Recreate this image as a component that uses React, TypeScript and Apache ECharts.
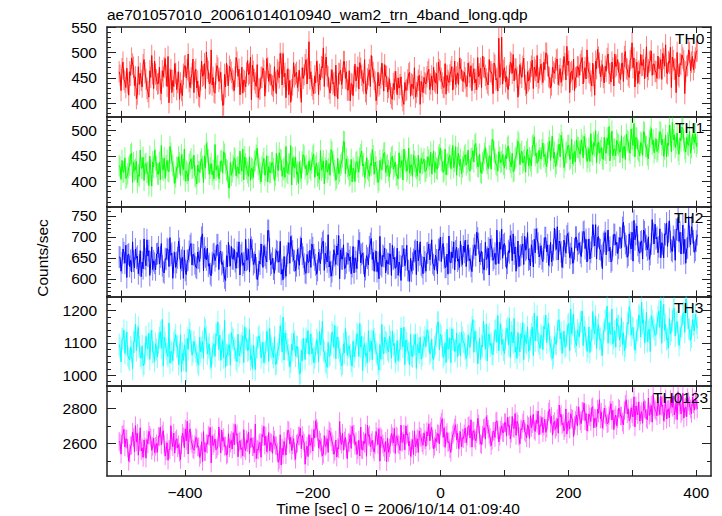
import React, { useEffect, useRef } from "react";
import * as echarts from "echarts";

const chartTitle = "ae701057010_20061014010940_wam2_trn_4band_long.qdp";
const xAxisTitle = "Time [sec] 0 = 2006/10/14 01:09:40";
const yAxisTitle = "Counts/sec";
const xTickValues = [-500, -400, -300, -200, -100, 0, 100, 200, 300, 400];
const xTickLabels = [-400, -200, 0, 200, 400];
// Bins are 1.5 s wide; "even" bins start at -503 s, "odd" bins at -501.5 s, both every 3 s.
const tStartEven = -503;
const tStartOdd = -501.5;
const tStep = 3;

const th0Even = [
  462, 425, 481, 442, 469, 416, 455, 477, 435, 409, 472, 459, 432, 486, 447, 423, 464, 494, 429, 457,
  438, 471, 419, 452, 488, 433, 401, 466, 445, 478, 427, 462, 440, 415, 473, 450, 497, 431, 458, 421,
  467, 444, 412, 483, 456, 429, 469, 438, 505, 451, 420, 474, 443, 461, 396, 457, 479, 435, 466, 448,
  425, 490, 453, 417, 471, 446, 432, 484, 459, 407, 463, 440, 476, 428, 451, 469, 414, 488, 443, 455,
  434, 472, 419, 461, 498, 436, 452, 411, 468, 445, 427, 480, 457, 431, 465, 402, 449, 476, 438, 521,
  462, 428, 454, 483, 417, 446, 470, 433, 491, 452, 420, 466, 441, 475, 409, 458, 437, 482, 449, 426,
  464, 439, 415, 477, 452, 428, 469, 444, 486, 418, 456, 433, 472, 447, 405, 461, 438, 479, 424, 453,
  422, 448, 411, 439, 463, 417, 430, 452, 405, 441, 427, 458, 414, 436, 470, 421, 445, 398, 433, 451,
  438, 462, 427, 454, 471, 440, 419, 466, 449, 432, 478, 455, 441, 463, 426, 483, 452, 437, 469, 444,
  461, 434, 479, 452, 425, 468, 447, 490, 458, 431, 472, 455, 440, 486, 462, 419, 475, 449, 528, 457,
  438, 470, 453, 427, 481, 459, 444, 467, 412, 476, 451, 489, 435, 462, 448, 473, 429, 465, 494, 450,
  477, 441, 466, 498, 452, 430, 471, 459, 485, 437, 468, 454, 492, 446, 475, 421, 463, 487, 450, 472,
  455, 483, 438, 470, 505, 461, 444, 479, 416, 468, 491, 452, 476, 440, 463, 497, 458, 481, 434, 472,
  486, 459, 478, 443, 502, 467, 451, 489, 470, 432, 481, 463, 496, 475, 448, 511, 466, 484, 455, 477,
  462, 493, 470, 447, 488, 515, 458, 479, 431, 484, 467, 500, 452, 476, 489, 419, 473, 505, 464, 492,
  481, 502,
];
const th0Odd = [
  455, 468, 447, 431, 440, 462, 489, 471, 452, 418, 437, 445, 476, 460, 429, 412, 451, 458, 483, 446,
  439, 427, 464, 470, 455, 492, 448, 421, 433, 459, 441, 408, 425, 457, 474, 466, 443, 450, 487, 462,
  430, 415, 446, 453, 478, 501, 463, 440, 436, 422, 458, 469, 449, 426, 397, 432, 455, 473, 461, 444,
  452, 481, 467, 438, 420, 443, 460, 456, 491, 475, 447, 433, 411, 428, 451, 464, 442, 470, 458, 437,
  424, 441, 466, 450, 479, 498, 459, 445, 417, 402, 436, 452, 461, 444, 431, 470, 456, 486, 468, 448,
  435, 419, 440, 463, 457, 472, 509, 477, 454, 429, 446, 438, 414, 433, 459, 465, 449, 482, 462, 426,
  405, 437, 452, 444, 471, 480, 455, 439, 423, 448, 466, 494, 461, 442, 418, 434, 450, 457, 476, 453,
  431, 419, 408, 427, 442, 450, 437, 415, 398, 425, 446, 461, 438, 429, 412, 433, 455, 443, 421, 440,
  452, 467, 438, 426, 444, 459, 481, 463, 440, 431, 418, 445, 456, 472, 449, 437, 460, 489, 466, 443,
  450, 433, 461, 474, 458, 440, 427, 452, 469, 493, 470, 448, 436, 462, 457, 479, 446, 424, 451, 530,
  465, 442, 430, 455, 478, 496, 468, 451, 437, 459, 473, 447, 419, 444, 462, 485, 471, 453, 440, 466,
  458, 481, 499, 474, 450, 436, 462, 469, 487, 455, 441, 466, 478, 512, 483, 460, 447, 425, 452, 471,
  476, 490, 462, 448, 470, 458, 434, 455, 483, 506, 479, 464, 451, 473, 488, 459, 442, 469, 497, 475,
  461, 447, 479, 492, 468, 455, 484, 519, 489, 466, 439, 458, 474, 486, 470, 452, 481, 503, 477, 463,
  449, 468, 486, 498, 473, 460, 482, 510, 491, 467, 421, 456, 478, 495, 484, 462, 475, 500, 481, 466,
  489, 503,
];

const th1Even = [
  431, 404, 418, 446, 409, 427, 452, 398, 421, 439, 413, 461, 426, 402, 435, 418, 449, 391, 428, 442,
  415, 437, 470, 422, 406, 441, 419, 455, 431, 396, 427, 448, 412, 433, 463, 420, 401, 438, 425, 451,
  409, 432, 418, 444, 397, 426, 457, 414, 435, 421, 472, 429, 405, 440, 416, 453, 423, 389, 437, 419,
  446, 411, 428, 459, 420, 403, 434, 417, 448, 426, 408, 441, 465, 424, 399, 436, 412, 450, 429, 418,
  437, 402, 455, 421, 443, 410, 427, 468, 416, 434, 393, 429, 447, 419, 438, 406, 452, 425, 413, 440,
  422, 449, 408, 436, 417, 460, 428, 395, 441, 424, 412, 457, 431, 403, 445, 420, 436, 478, 415, 429,
  411, 443, 426, 400, 439, 418, 452, 430, 407, 446, 421, 435, 462, 414, 428, 398, 441, 423, 455, 417,
  432, 409, 447, 424, 438, 413, 456, 429, 403, 442, 420, 465, 431, 410, 439, 425, 451, 416, 434, 444,
  421, 448, 430, 415, 459, 437, 424, 452, 441, 418, 463, 433, 447, 425, 470, 439, 412, 455, 443, 428,
  449, 432, 461, 420, 445, 438, 474, 429, 453, 416, 441, 466, 435, 450, 424, 481, 443, 431, 458, 437,
  452, 426, 444, 469, 437, 455, 421, 448, 478, 433, 459, 441, 418, 463, 446, 430, 472, 450, 436, 461,
  444, 475, 453, 429, 466, 441, 488, 457, 435, 462, 448, 476, 427, 455, 470, 443, 482, 451, 438, 467,
  458, 481, 446, 472, 439, 464, 493, 452, 469, 436, 477, 460, 445, 486, 455, 471, 440, 498, 463, 450,
  474, 457, 489, 466, 443, 480, 461, 502, 470, 448, 484, 459, 476, 451, 495, 468, 444, 487, 472, 456,
  483, 462, 497, 471, 449, 490, 475, 510, 458, 481, 466, 494, 453, 479, 503, 464, 486, 470, 455, 492,
  476, 468,
];
const th1Odd = [
  428, 441, 419, 406, 415, 432, 455, 437, 424, 398, 410, 426, 447, 433, 417, 392, 421, 438, 461, 429,
  414, 403, 425, 446, 431, 420, 468, 440, 418, 409, 427, 436, 452, 423, 401, 416, 433, 444, 428, 411,
  395, 419, 437, 429, 450, 474, 442, 426, 413, 405, 422, 431, 418, 440, 458, 435, 420, 387, 412, 430,
  443, 427, 415, 434, 463, 448, 425, 410, 402, 424, 439, 451, 433, 416, 428, 445, 421, 399, 417, 436,
  425, 412, 430, 456, 441, 423, 408, 419, 434, 470, 446, 427, 414, 396, 420, 438, 449, 431, 417, 426,
  436, 453, 429, 411, 404, 422, 440, 426, 418, 435, 462, 439, 421, 407, 415, 432, 448, 477, 444, 424,
  413, 399, 420, 437, 428, 445, 459, 434, 417, 425, 410, 431, 450, 438, 419, 403, 426, 442, 456, 430,
  421, 436, 449, 430, 412, 405, 427, 441, 463, 438, 424, 416, 433, 452, 429, 410, 422, 445, 437, 419,
  428, 442, 457, 434, 418, 426, 447, 465, 439, 421, 413, 435, 451, 444, 427, 468, 446, 430, 415, 438,
  452, 437, 423, 444, 460, 471, 446, 429, 418, 436, 455, 442, 425, 449, 482, 458, 434, 420, 447, 439,
  433, 451, 466, 443, 428, 419, 445, 462, 474, 453, 436, 449, 458, 431, 440, 469, 487, 455, 438, 446,
  462, 448, 437, 456, 479, 468, 445, 429, 451, 473, 490, 463, 441, 457, 470, 446, 434, 458, 481, 466,
  453, 470, 488, 464, 447, 439, 458, 476, 499, 472, 455, 466, 443, 461, 485, 507, 474, 450, 463, 480,
  471, 458, 446, 469, 492, 477, 455, 483, 513, 486, 462, 450, 474, 497, 468, 452, 479, 503, 481, 465,
  458, 476, 495, 482, 463, 448, 470, 489, 515, 491, 474, 461, 485, 506, 479, 457, 472, 498, 466, 484,
  493, 475,
];

const th2Even = [
  652, 618, 671, 637, 603, 659, 644, 688, 626, 649, 612, 667, 640, 695, 631, 654, 608, 676, 643, 621,
  660, 635, 684, 617, 648, 672, 629, 656, 601, 663, 639, 690, 624, 651, 668, 610, 645, 679, 633, 657,
  628, 664, 641, 699, 619, 652, 673, 636, 607, 658, 643, 681, 622, 666, 639, 602, 655, 687, 630, 648,
  670, 625, 651, 609, 662, 638, 694, 647, 616, 675, 634, 659, 598, 642, 683, 627, 656, 640, 715, 633,
  649, 613, 667, 641, 689, 622, 653, 606, 661, 637, 678, 644, 619, 670, 632, 697, 651, 615, 658, 640,
  627, 674, 645, 611, 663, 636, 686, 620, 652, 705, 641, 617, 669, 634, 657, 600, 648, 681, 626, 660,
  643, 612, 677, 650, 624, 692, 638, 661, 605, 655, 633, 684, 646, 618, 666, 639, 701, 629, 653, 614,
  636, 659, 608, 647, 625, 673, 640, 596, 654, 631, 680, 619, 649, 637, 665, 610, 643, 688, 628, 652,
  618, 662, 645, 693, 633, 656, 612, 668, 641, 684, 627, 659, 702, 638, 650, 621, 675, 647, 690, 634,
  663, 629, 681, 648, 617, 672, 655, 697, 640, 666, 622, 687, 651, 609, 678, 644, 661, 716, 636, 670,
  649, 684, 625, 667, 703, 643, 659, 618, 690, 655, 676, 634, 668, 710, 647, 681, 628, 662, 695, 652,
  679, 641, 698, 664, 632, 687, 656, 721, 670, 645, 683, 627, 692, 661, 708, 650, 674, 638, 699, 667,
  686, 653, 711, 672, 640, 695, 663, 729, 678, 647, 701, 669, 624, 689, 657, 716, 675, 644, 706, 681,
  660, 698, 674, 735, 684, 651, 707, 671, 642, 693, 726, 665, 688, 647, 712, 679, 700, 658, 741, 683,
  695, 662, 719, 686, 650, 705, 677, 738, 668, 701, 644, 716, 689, 659, 728, 694, 672, 748, 681, 710,
  663, 690,
];
const th2Odd = [
  651, 638, 662, 680, 657, 629, 616, 642, 671, 654, 633, 605, 624, 648, 693, 667, 640, 622, 637, 659,
  676, 652, 631, 614, 646, 669, 698, 661, 639, 627, 650, 672, 644, 601, 620, 643, 665, 684, 658, 636,
  625, 649, 674, 707, 673, 645, 630, 612, 638, 660, 653, 681, 662, 634, 618, 596, 628, 655, 677, 647,
  641, 663, 688, 656, 632, 619, 644, 670, 695, 668, 639, 626, 609, 635, 657, 679, 650, 715, 671, 637,
  623, 646, 664, 640, 611, 598, 627, 654, 686, 701, 666, 642, 631, 648, 675, 659, 635, 613, 639, 668,
  683, 657, 633, 620, 645, 672, 690, 661, 640, 628, 606, 632, 655, 678, 703, 669, 647, 624, 638, 660,
  652, 629, 614, 641, 667, 685, 658, 637, 622, 649, 676, 696, 663, 643, 617, 600, 634, 656, 673, 645,
  636, 659, 680, 651, 627, 608, 631, 654, 672, 645, 620, 594, 618, 646, 668, 690, 657, 633, 612, 640,
  661, 683, 658, 637, 621, 645, 670, 699, 674, 650, 628, 611, 639, 664, 688, 666, 642, 627, 655, 678,
  692, 667, 643, 630, 655, 681, 711, 684, 659, 638, 622, 646, 673, 695, 670, 649, 634, 662, 687, 718,
  681, 654, 637, 662, 689, 707, 676, 650, 629, 657, 683, 701, 672, 645, 631, 666, 694, 719, 685, 659,
  648, 672, 698, 681, 655, 640, 669, 693, 724, 690, 664, 651, 678, 702, 686, 660, 637, 671, 699, 683,
  662, 688, 713, 694, 668, 647, 675, 703, 729, 698, 671, 655, 684, 710, 690, 666, 640, 679, 705, 687,
  673, 697, 722, 701, 678, 656, 686, 711, 739, 706, 680, 661, 690, 716, 694, 669, 646, 683, 708, 730,
  699, 676, 650, 682, 707, 733, 712, 688, 665, 692, 718, 746, 711, 685, 660, 637, 674, 701, 724, 690,
  668, 705,
];

const th3Even = [
  1095, 1041, 1112, 1068, 1134, 1052, 1087, 1019, 1103, 1076, 1148, 1060, 1091, 1035, 1120, 1082, 1049, 1139, 1071, 1098,
  1057, 1116, 1083, 1028, 1101, 1065, 1162, 1074, 1045, 1109, 1088, 1033, 1125, 1069, 1094, 1011, 1080, 1131, 1062, 1104,
  1073, 1038, 1118, 1085, 1052, 1140, 1066, 1097, 1024, 1089, 1058, 1123, 1079, 1046, 1107, 1170, 1063, 1092, 1031, 1115,
  1084, 1050, 1127, 1070, 1099, 1039, 1111, 1075, 1143, 1061, 1093, 1017, 1086, 1122, 1054, 1102, 1068, 1136, 1043, 1090,
  1067, 1119, 1036, 1081, 1153, 1072, 1047, 1106, 1078, 1025, 1096, 1130, 1059, 1088, 1004, 1077, 1114, 1049, 1100, 1065,
  1128, 1083, 1055, 1110, 1042, 1094, 1167, 1071, 1037, 1102, 1064, 1133, 1086, 1051, 1118, 1073, 1029, 1097, 1145, 1062,
  1091, 1044, 1105, 1076, 1129, 1058, 1087, 1014, 1099, 1068, 1138, 1081, 1048, 1113, 1072, 1034, 1095, 1157, 1066, 1103,
  1079, 1121, 1053, 1092, 1040, 1108, 1074, 1146, 1087, 1032, 1100, 1069, 1126, 1057, 1095, 1021, 1083, 1118, 1061, 1104,
  1089, 1135, 1066, 1112, 1048, 1097, 1163, 1078, 1120, 1055, 1101, 1142, 1084, 1039, 1109, 1073, 1131, 1092, 1060, 1117,
  1098, 1052, 1124, 1086, 1149, 1071, 1107, 1036, 1115, 1093, 1168, 1080, 1044, 1128, 1099, 1063, 1137, 1102, 1075, 1158,
  1110, 1067, 1139, 1094, 1055, 1121, 1176, 1088, 1132, 1072, 1114, 1048, 1103, 1150, 1085, 1127, 1061, 1106, 1183, 1097,
  1125, 1079, 1143, 1101, 1160, 1087, 1052, 1119, 1095, 1171, 1112, 1068, 1136, 1091, 1154, 1076, 1128, 1189, 1104, 1140,
  1118, 1166, 1092, 1135, 1074, 1149, 1107, 1197, 1128, 1083, 1157, 1113, 1061, 1141, 1174, 1099, 1132, 1205, 1115, 1087,
  1152, 1109, 1178, 1131, 1090, 1163, 1212, 1124, 1146, 1077, 1139, 1187, 1118, 1160, 1101, 1195, 1135, 1073, 1169, 1142,
  1126, 1181, 1148, 1099, 1220, 1157, 1114, 1175, 1138, 1203, 1121, 1166, 1092, 1150, 1191, 1133, 1227, 1144, 1108, 1172,
  1137, 1161,
];
const th3Odd = [
  1084, 1112, 1139, 1096, 1061, 1047, 1075, 1103, 1158, 1121, 1088, 1052, 1029, 1066, 1093, 1130, 1107, 1071, 1043, 1080,
  1099, 1135, 1173, 1118, 1082, 1058, 1037, 1069, 1101, 1126, 1090, 1064, 1011, 1046, 1078, 1115, 1142, 1106, 1073, 1087,
  1060, 1031, 1072, 1104, 1147, 1119, 1085, 1050, 1068, 1097, 1128, 1165, 1124, 1081, 1054, 1025, 1063, 1095, 1132, 1110,
  1076, 1042, 1059, 1091, 1122, 1150, 1113, 1079, 1048, 1020, 1057, 1086, 1116, 1098, 1070, 1039, 1074, 1108, 1145, 1083,
  1055, 1033, 1067, 1094, 1127, 1180, 1131, 1096, 1062, 1041, 1077, 1105, 1089, 1053, 1006, 1045, 1081, 1114, 1139, 1092,
  1066, 1038, 1071, 1100, 1136, 1111, 1078, 1044, 1024, 1058, 1093, 1125, 1154, 1117, 1084, 1051, 1035, 1069, 1102, 1087,
  1063, 1028, 1056, 1090, 1123, 1160, 1120, 1086, 1059, 1040, 1074, 1106, 1138, 1097, 1065, 1016, 1049, 1083, 1118, 1100,
  1072, 1104, 1137, 1098, 1066, 1045, 1080, 1113, 1149, 1109, 1077, 1032, 1060, 1092, 1126, 1095, 1068, 1050, 1087, 1119,
  1141, 1106, 1074, 1053, 1088, 1121, 1165, 1127, 1092, 1063, 1039, 1080, 1115, 1144, 1110, 1076, 1058, 1099, 1133, 1103,
  1081, 1060, 1097, 1130, 1172, 1136, 1101, 1070, 1049, 1088, 1124, 1158, 1119, 1090, 1066, 1107, 1141, 1185, 1129, 1095,
  1078, 1112, 1146, 1177, 1134, 1100, 1071, 1052, 1093, 1128, 1163, 1125, 1098, 1074, 1109, 1149, 1192, 1140, 1105, 1083,
  1118, 1152, 1186, 1143, 1107, 1079, 1061, 1099, 1135, 1171, 1132, 1102, 1086, 1123, 1160, 1205, 1155, 1117, 1091, 1129,
  1164, 1199, 1151, 1114, 1088, 1070, 1108, 1145, 1182, 1140, 1111, 1094, 1130, 1168, 1214, 1163, 1126, 1097, 1137, 1176,
  1153, 1121, 1095, 1076, 1117, 1158, 1196, 1148, 1116, 1100, 1139, 1181, 1226, 1172, 1133, 1104, 1143, 1184, 1150, 1123,
  1160, 1198, 1231, 1179, 1139, 1110, 1085, 1127, 1168, 1207, 1162, 1130, 1115, 1152, 1193, 1236, 1176, 1141, 1119, 1157,
  1188, 1146,
];

const th0123Even = [
  2612, 2538, 2651, 2579, 2624, 2497, 2586, 2663, 2551, 2608, 2532, 2689, 2574, 2619, 2515, 2597, 2645, 2560, 2630, 2583,
  2549, 2637, 2591, 2672, 2528, 2603, 2566, 2701, 2581, 2544, 2626, 2592, 2507, 2658, 2575, 2614, 2539, 2683, 2597, 2561,
  2634, 2578, 2519, 2609, 2667, 2553, 2596, 2640, 2488, 2587, 2625, 2570, 2694, 2546, 2612, 2583, 2532, 2655, 2601, 2568,
  2591, 2646, 2523, 2615, 2574, 2678, 2557, 2603, 2541, 2629, 2582, 2710, 2566, 2598, 2520, 2637, 2589, 2551, 2662, 2605,
  2543, 2620, 2586, 2491, 2649, 2572, 2611, 2534, 2676, 2595, 2558, 2627, 2509, 2602, 2642, 2569, 2615, 2480, 2584, 2650,
  2598, 2556, 2631, 2687, 2573, 2607, 2529, 2644, 2590, 2548, 2663, 2610, 2537, 2619, 2576, 2725, 2594, 2561, 2633, 2512,
  2604, 2571, 2652, 2589, 2536, 2618, 2693, 2562, 2599, 2526, 2640, 2581, 2617, 2550, 2668, 2593, 2498, 2626, 2577, 2611,
  2629, 2574, 2656, 2601, 2542, 2637, 2590, 2704, 2612, 2563, 2648, 2585, 2526, 2621, 2671, 2597, 2548, 2639, 2604, 2660,
  2583, 2642, 2615, 2691, 2568, 2627, 2655, 2596, 2720, 2634, 2577, 2662, 2609, 2548, 2649, 2688, 2620, 2571, 2666, 2631,
  2654, 2603, 2697, 2630, 2578, 2671, 2615, 2743, 2646, 2592, 2685, 2624, 2709, 2651, 2587, 2669, 2633, 2728, 2608, 2676,
  2662, 2719, 2641, 2696, 2624, 2754, 2683, 2645, 2711, 2597, 2677, 2733, 2659, 2706, 2628, 2690, 2765, 2668, 2713, 2649,
  2702, 2661, 2738, 2686, 2779, 2714, 2647, 2725, 2693, 2658, 2751, 2706, 2672, 2797, 2720, 2683, 2744, 2639, 2731, 2699,
  2756, 2712, 2783, 2730, 2671, 2768, 2725, 2810, 2744, 2695, 2772, 2739, 2687, 2801, 2749, 2716, 2788, 2733, 2679, 2762,
  2741, 2795, 2757, 2706, 2823, 2768, 2729, 2804, 2751, 2694, 2786, 2837, 2762, 2715, 2798, 2743, 2859, 2776, 2721, 2809,
  2783, 2834, 2764, 2811, 2729, 2856, 2792, 2747, 2825, 2871, 2788, 2736, 2818, 2769, 2887, 2803, 2752, 2839, 2796, 2865,
  2790, 2842,
];
const th0123Odd = [
  2603, 2648, 2680, 2625, 2571, 2542, 2589, 2634, 2701, 2657, 2608, 2556, 2519, 2577, 2622, 2669, 2631, 2583, 2547, 2598,
  2640, 2692, 2651, 2596, 2558, 2503, 2564, 2611, 2659, 2616, 2575, 2548, 2590, 2638, 2683, 2727, 2662, 2615, 2569, 2593,
  2626, 2581, 2537, 2496, 2552, 2599, 2647, 2690, 2644, 2601, 2563, 2585, 2629, 2676, 2633, 2586, 2540, 2574, 2617, 2661,
  2709, 2655, 2607, 2566, 2528, 2573, 2620, 2665, 2628, 2580, 2545, 2513, 2561, 2606, 2651, 2698, 2641, 2594, 2557, 2600,
  2643, 2588, 2549, 2507, 2476, 2534, 2579, 2624, 2672, 2635, 2591, 2553, 2596, 2642, 2687, 2645, 2602, 2560, 2524, 2587,
  2630, 2678, 2729, 2668, 2619, 2576, 2538, 2582, 2627, 2673, 2636, 2592, 2555, 2521, 2568, 2613, 2658, 2614, 2570, 2604,
  2650, 2697, 2652, 2609, 2562, 2527, 2565, 2612, 2656, 2705, 2649, 2603, 2567, 2592, 2637, 2684, 2639, 2597, 2551, 2495,
  2548, 2593, 2639, 2686, 2643, 2598, 2559, 2605, 2652, 2700, 2655, 2611, 2573, 2536, 2580, 2626, 2671, 2632, 2589, 2621,
  2667, 2712, 2668, 2624, 2583, 2610, 2654, 2699, 2741, 2690, 2646, 2603, 2569, 2615, 2661, 2706, 2659, 2618, 2581, 2627,
  2688, 2641, 2702, 2735, 2670, 2629, 2655, 2711, 2598, 2647, 2690, 2752, 2681, 2633, 2616, 2669, 2724, 2677, 2642, 2700,
  2661, 2718, 2749, 2702, 2657, 2689, 2771, 2726, 2640, 2683, 2715, 2668, 2631, 2697, 2758, 2712, 2676, 2734, 2785, 2706,
  2748, 2699, 2663, 2731, 2796, 2754, 2708, 2680, 2742, 2819, 2766, 2715, 2689, 2653, 2727, 2770, 2738, 2702, 2761, 2809,
  2729, 2784, 2830, 2771, 2716, 2752, 2803, 2688, 2741, 2796, 2850, 2778, 2733, 2765, 2712, 2759, 2827, 2790, 2745, 2701,
  2802, 2756, 2721, 2787, 2849, 2798, 2740, 2769, 2866, 2814, 2763, 2727, 2781, 2838, 2790, 2735, 2760, 2817, 2879, 2793,
  2758, 2811, 2869, 2820, 2776, 2739, 2797, 2851, 2806, 2762, 2830, 2895, 2835, 2783, 2744, 2808, 2862, 2815, 2771, 2826,
  2849, 2797,
];

const bandEven = [th0Even, th1Even, th2Even, th3Even, th0123Even];
const bandOdd = [th0Odd, th1Odd, th2Odd, th3Odd, th0123Odd];
const bandNames = ["TH0", "TH1", "TH2", "TH3", "TH0123"];
const bandErrors = [21, 21, 26, 34, 53];
const yMajorTicks = [
  [400, 450, 500, 550],
  [400, 450, 500],
  [600, 650, 700, 750],
  [1000, 1100, 1200],
  [2600, 2800],
];
const yMinorSteps = [10, 10, 10, 20, 100];
const yRanges = [
  [373.5, 550],
  [351, 526],
  [558, 772],
  [966, 1244],
  [2413, 2927],
];

const COLORS = ["#ff0000", "#00ff00", "#0000ff", "#00ffff", "#ff00ff"];
const FONT = "'Liberation Sans', Arial, Helvetica, sans-serif";
const FONT_SIZE = 15.5;
const PLOT_LEFT = 107;
const PLOT_RIGHT = 711;
const PLOT_TOP = 27;
const PLOT_BOTTOM = 476;
const X_MIN = -522;
const X_MAX = 423;
const LABEL_LEFT = [675, 675, 674, 674, 653];

function minorTicks(range: number[], step: number, majors: number[]) {
  const out: number[] = [];
  const start = Math.ceil(range[0] / step) * step;
  for (let v = start; v <= range[1] + 1e-9; v += step) {
    if (!majors.includes(v)) out.push(v);
  }
  return out;
}

function buildPoints(even: number[], odd: number[]) {
  const pts: number[][] = [];
  const len = Math.max(even.length, odd.length);
  for (let i = 0; i < len; i++) {
    if (even[i] != null) pts.push([tStartEven + i * tStep, even[i]]);
    if (odd[i] != null) pts.push([tStartOdd + i * tStep, odd[i]]);
  }
  return pts;
}

export default function App() {
  const ref = useRef<HTMLDivElement>(null);

  useEffect(() => {
    if (!ref.current) return;
    const chart = echarts.init(ref.current, undefined, { renderer: "svg" });
    const n = bandEven.length;
    const panelH = (PLOT_BOTTOM - PLOT_TOP) / n;
    const axisColor = "#222";

    const grids: any[] = [];
    const xAxes: any[] = [];
    const yAxes: any[] = [];
    const series: any[] = [];
    const graphics: any[] = [];

    for (let p = 0; p < n; p++) {
      const top = PLOT_TOP + p * panelH;
      grids.push({
        left: PLOT_LEFT,
        width: PLOT_RIGHT - PLOT_LEFT,
        top,
        height: panelH,
        show: false,
      });
      const isLast = p === n - 1;
      const baseX = {
        type: "value",
        gridIndex: p,
        min: X_MIN,
        max: X_MAX,
        splitLine: { show: false },
        axisLine: { show: true, onZero: false, lineStyle: { color: axisColor, width: 1.5 } },
        axisTick: {
          show: true,
          inside: true,
          length: 6,
          customValues: xTickValues,
          lineStyle: { color: axisColor, width: 1 },
        },
      };
      xAxes.push({
        ...baseX,
        position: "bottom",
        axisLabel: isLast
          ? {
              show: true,
              customValues: xTickLabels,
              fontSize: FONT_SIZE,
              fontFamily: FONT,
              color: "#000",
              margin: 8,
              formatter: (v: number) => (v < 0 ? "\u2212" + Math.abs(v) : String(v)),
            }
          : { show: false },
      });
      xAxes.push({ ...baseX, position: "top", axisLabel: { show: false } });

      const range = yRanges[p];
      const majors = yMajorTicks[p];
      const minors = minorTicks(range, yMinorSteps[p], majors);
      const baseY = {
        type: "value",
        gridIndex: p,
        min: range[0],
        max: range[1],
        splitLine: { show: false },
      };
      const tickStyle = { color: axisColor, width: 1 };
      yAxes.push({
        ...baseY,
        position: "left",
        axisLine: { show: true, onZero: false, lineStyle: { color: axisColor, width: 1.5 } },
        axisTick: { show: true, inside: true, length: 9, customValues: majors, lineStyle: tickStyle },
        axisLabel: {
          show: true,
          customValues: majors,
          fontSize: FONT_SIZE,
          fontFamily: FONT,
          color: "#000",
          margin: 10,
          formatter: (v: number) => String(v),
        },
      });
      yAxes.push({
        ...baseY,
        position: "left",
        axisLine: { show: false, onZero: false },
        axisTick: { show: true, inside: true, length: 4, customValues: minors, lineStyle: tickStyle },
        axisLabel: { show: false },
      });
      yAxes.push({
        ...baseY,
        position: "right",
        axisLine: { show: true, onZero: false, lineStyle: { color: axisColor, width: 1.5 } },
        axisTick: { show: true, inside: true, length: 9, customValues: majors, lineStyle: tickStyle },
        axisLabel: { show: false },
      });
      yAxes.push({
        ...baseY,
        position: "right",
        axisLine: { show: false, onZero: false },
        axisTick: { show: true, inside: true, length: 4, customValues: minors, lineStyle: tickStyle },
        axisLabel: { show: false },
      });

      const data = buildPoints(bandEven[p], bandOdd[p]);
      const err = bandErrors[p];
      const color = COLORS[p];
      series.push({
        type: "custom",
        xAxisIndex: 2 * p,
        yAxisIndex: 4 * p,
        data,
        clip: true,
        z: 1,
        silent: true,
        renderItem: (params: any, api: any) => {
          const x = api.value(0);
          const y = api.value(1);
          const lo = api.coord([x, y - err]);
          const hi = api.coord([x, y + err]);
          return {
            type: "line",
            shape: { x1: lo[0], y1: lo[1], x2: hi[0], y2: hi[1] },
            style: { stroke: color, opacity: 0.5, lineWidth: 1 },
          };
        },
      });
      series.push({
        type: "line",
        name: bandNames[p],
        xAxisIndex: 2 * p,
        yAxisIndex: 4 * p,
        data,
        showSymbol: false,
        clip: true,
        z: 2,
        silent: true,
        lineStyle: { color, width: 1 },
        itemStyle: { color },
      });

      graphics.push({
        type: "text",
        left: LABEL_LEFT[p],
        top: top + 3,
        style: { text: bandNames[p], font: `${FONT_SIZE}px ${FONT}`, fill: "#000" },
        z: 10,
      });
    }

    graphics.push({
      type: "text",
      left: PLOT_LEFT,
      top: 6,
      style: { text: chartTitle, font: `${FONT_SIZE}px ${FONT}`, fill: "#000" },
    });
    graphics.push({
      type: "text",
      x: 42,
      y: 258,
      rotation: Math.PI / 2,
      style: {
        text: yAxisTitle,
        font: `${FONT_SIZE}px ${FONT}`,
        fill: "#000",
        textAlign: "center",
        textVerticalAlign: "middle",
      },
    });
    graphics.push({
      type: "text",
      x: 398,
      y: 508,
      style: {
        text: xAxisTitle,
        font: `${FONT_SIZE}px ${FONT}`,
        fill: "#000",
        textAlign: "center",
        textVerticalAlign: "middle",
      },
    });

    chart.setOption({
      animation: false,
      backgroundColor: "#fff",
      grid: grids,
      xAxis: xAxes,
      yAxis: yAxes,
      series,
      graphic: graphics,
    });
    return () => chart.dispose();
  }, []);

  return (
    <div
      ref={ref}
      style={{ position: "fixed", left: 0, top: 0, width: 722, height: 516, background: "#fff" }}
    />
  );
}
